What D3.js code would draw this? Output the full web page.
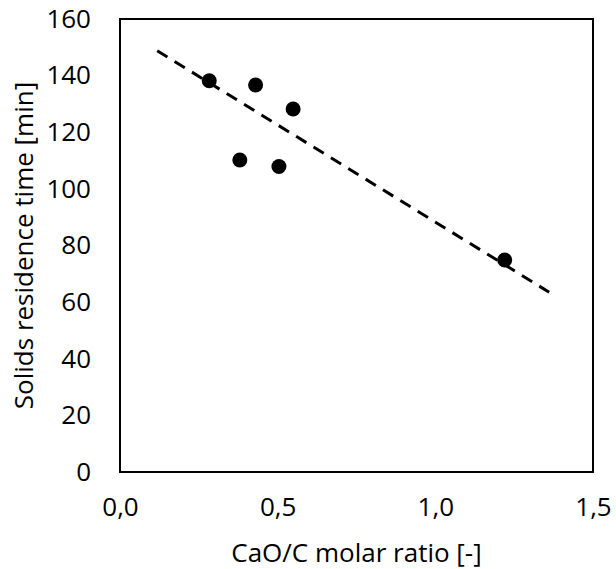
<!DOCTYPE html>
<html>
<head>
<meta charset="utf-8">
<script src="https://cdn.jsdelivr.net/npm/d3@7"></script>
<style>
  body { margin: 0; background: #fff; }
  text { font-family: "Open Sans", "Noto Sans", sans-serif; fill: #000; }
</style>
</head>
<body>
<div id="chart"></div>
<script>
// measured points
var cao_c = [0.283, 0.430, 0.549, 0.380, 0.504, 1.220]
var residenceTime = [138.2, 136.7, 128.2, 110.2, 107.9, 74.9]

// trendline end points
var trendX = [0.118, 1.361]
var trendY = [148.8, 63.5]

var xTicks = [0, 0.5, 1.0, 1.5]
var yTicks = [0, 20, 40, 60, 80, 100, 120, 140, 160]

var margin = {
  left: 120,
  right: 23,
  top: 19,
  bottom: 97,
}

var chartWidth = 616
var chartHeight = 569
var width = chartWidth - margin.left - margin.right;
var height = chartHeight - margin.top - margin.bottom;

var svg = d3.select("#chart")
  .append("svg")
  .attr("width", chartWidth)
  .attr("height", chartHeight)

var g = svg.append("g")
  .attr("transform", "translate(" + margin.left + "," + margin.top + ")")

var x = d3.scaleLinear().domain([0, 1.5]).range([0, width])
var y = d3.scaleLinear().domain([0, 160]).range([height, 0])

var fmt = function(d) { return d3.format(".1f")(d).replace(".", ","); }

// y axis labels
g.append("g")
  .attr("transform", "translate(-29,0)")
  .call(d3.axisLeft(y).tickValues(yTicks).tickSize(0).tickPadding(0))
  .call(a => a.select(".domain").remove())
  .attr("font-size", null)
  .attr("font-family", null)
  .selectAll("text")
  .style("font-size", "26px")

// x axis labels
g.append("g")
  .attr("transform", "translate(0," + (height + 26) + ")")
  .call(d3.axisBottom(x).tickValues(xTicks).tickFormat(fmt).tickSize(0).tickPadding(0))
  .call(a => a.select(".domain").remove())
  .attr("font-size", null)
  .attr("font-family", null)
  .selectAll("text")
  .style("font-size", "26px")

// frame
g.append("rect")
  .attr("x", 0)
  .attr("y", 0)
  .attr("width", width)
  .attr("height", height)
  .attr("fill", "none")
  .attr("stroke", "#000")
  .attr("stroke-width", 2)

// trendline
var trend = trendX.map((d, i) => [d, trendY[i]])
g.append("path")
  .datum(trend)
  .attr("d", d3.line().x(d => x(d[0])).y(d => y(d[1])))
  .attr("fill", "none")
  .attr("stroke", "#000")
  .attr("stroke-width", 3)
  .attr("stroke-dasharray", "12,8.4")

// points
g.selectAll("circle")
  .data(cao_c)
  .enter()
  .append("circle")
  .attr("cx", d => x(d))
  .attr("cy", (d, i) => y(residenceTime[i]))
  .attr("r", 7.5)
  .attr("fill", "#000")

// axis titles
svg.append("text")
  .attr("x", margin.left + width / 2)
  .attr("y", 562)
  .attr("text-anchor", "middle")
  .style("font-size", "26px")
  .text("CaO/C molar ratio [-]")

svg.append("text")
  .attr("transform", "translate(33," + (margin.top + height / 2) + ") rotate(-90)")
  .attr("text-anchor", "middle")
  .style("font-size", "26px")
  .text("Solids residence time [min]")
</script>
</body>
</html>
